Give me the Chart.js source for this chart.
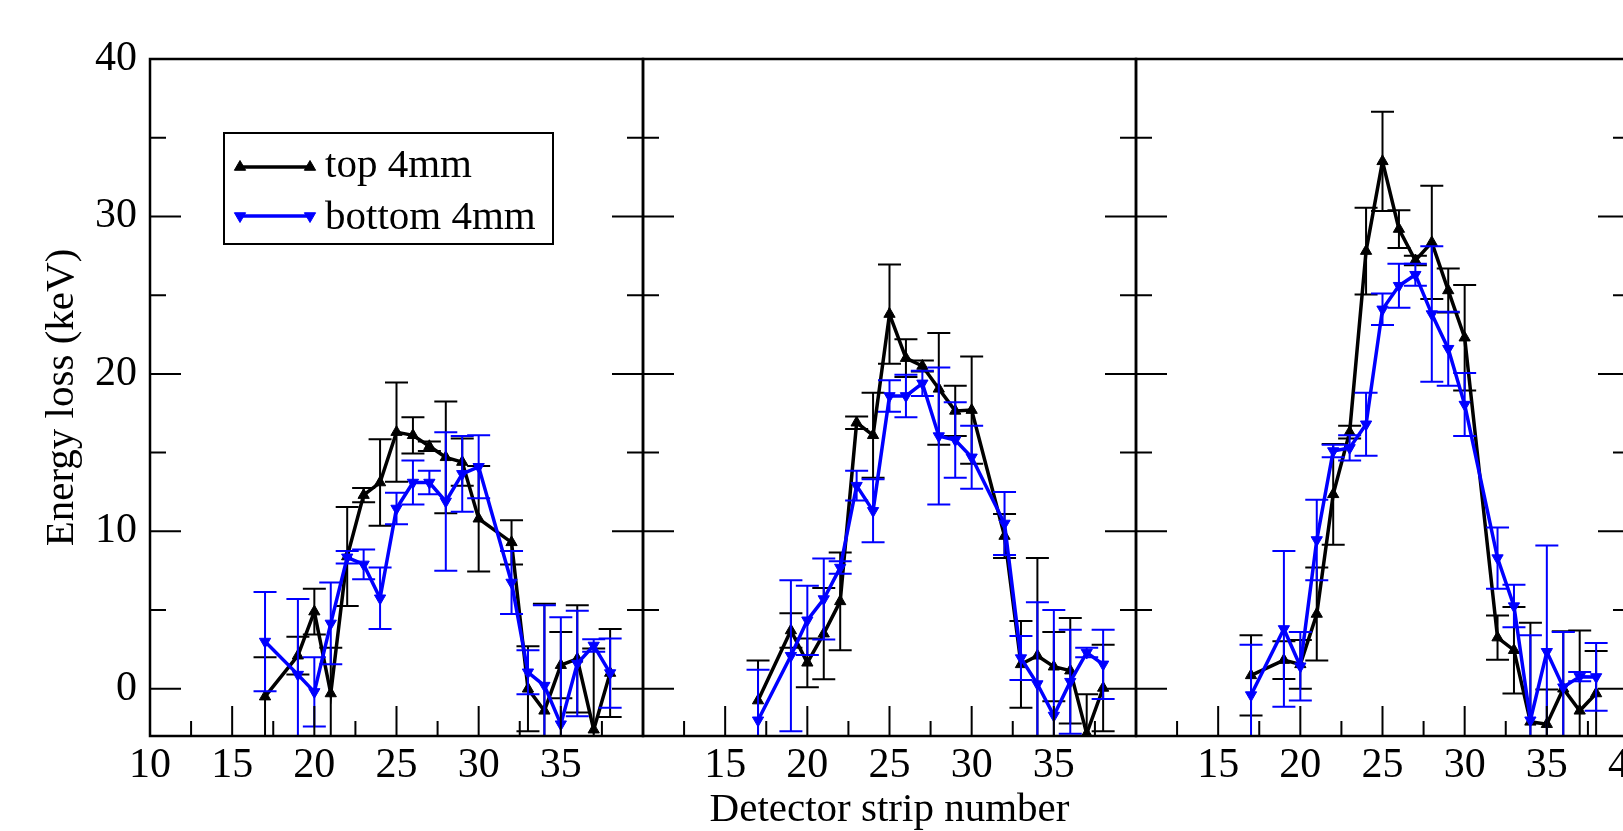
<!DOCTYPE html>
<html>
<head>
<meta charset="utf-8">
<script src="https://cdn.jsdelivr.net/npm/chart.js@4.4.1/dist/chart.umd.min.js"></script>
<style>
  html, body { margin: 0; padding: 0; background: #fff; overflow: hidden; }
  #wrap { position: relative; width: 1623px; height: 831px; overflow: hidden; }
  #wrap canvas { position: absolute; left: 0; top: 0; }
</style>
</head>
<body>
<div id="wrap">
  <canvas id="p1" width="1700" height="831"></canvas>
  <canvas id="p2" width="1700" height="831"></canvas>
  <canvas id="p3" width="1700" height="831"></canvas>
</div>
<script>
/* ---------- Data ---------- */
const strips = [17, 19, 20, 21, 22, 23, 24, 25, 26, 27, 28, 29, 30, 32, 33, 34, 35, 36, 37, 38];

// panel 1
const top1 = [-0.5, 2.1, 4.9, -0.3, 8.4, 12.3, 13.1, 16.3, 16.1, 15.4, 14.7, 14.4, 10.8, 9.3, 0.0, -1.4, 1.5, 1.9, -2.6, 1.0];
const top1Err = [2.5, 1.2, 1.45, 2.9, 3.15, 0.45, 2.75, 3.15, 1.15, 0.3, 3.55, 1.5, 3.35, 1.4, 2.7, 6.8, 2.1, 3.4, 5.15, 2.8];
const bottom1 = [3.0, 0.9, -0.2, 4.15, 8.35, 7.9, 5.75, 11.45, 13.1, 13.1, 11.9, 13.65, 14.1, 6.75, 1.05, 0.2, -2.25, 1.6, 2.75, 1.0];
const bottom1Err = [3.15, 4.8, 2.2, 2.6, 0.4, 0.95, 1.95, 1.0, 1.4, 0.75, 4.4, 2.4, 2.0, 2.0, 1.4, 5.1, 6.8, 3.35, 0.4, 2.2];

// panel 2
const top2 = [-0.75, 3.7, 1.65, 3.5, 5.55, 16.9, 16.1, 23.8, 21.0, 20.5, 19.05, 17.65, 17.7, 9.7, 1.55, 2.1, 1.4, 1.15, -2.85, 0.05];
const top2Err = [2.55, 1.1, 1.55, 2.9, 3.1, 0.4, 2.7, 3.15, 1.2, 0.35, 3.55, 1.6, 3.4, 1.4, 2.75, 6.2, 2.2, 3.35, 2.5, 2.75];
const bottom2 = [-2.0, 2.1, 4.35, 5.7, 7.7, 12.9, 11.3, 18.6, 18.6, 19.4, 16.05, 15.8, 14.7, 10.5, 1.95, 0.3, -1.7, 0.45, 2.3, 1.55];
const bottom2Err = [3.2, 4.8, 2.2, 2.57, 0.4, 0.95, 2.0, 1.0, 1.35, 0.8, 4.35, 2.4, 2.0, 2.0, 1.4, 5.2, 6.7, 3.3, 0.3, 2.2];

// panel 3
const top3 = [0.85, 1.82, 1.55, 4.75, 12.35, 16.3, 27.8, 33.5, 29.2, 27.2, 28.35, 25.3, 22.3, 3.25, 2.45, -2.1, -2.25, 0.0, -1.4, -0.3];
const top3Err = [2.55, 1.2, 1.55, 2.95, 3.2, 0.4, 2.75, 3.15, 1.2, 0.3, 3.6, 1.4, 3.35, 1.4, 2.75, 6.3, 2.2, 3.65, 5.1, 2.7];
const bottom3 = [-0.4, 3.8, 1.43, 9.45, 15.1, 15.3, 16.8, 24.1, 25.6, 26.3, 23.8, 21.6, 18.05, 8.3, 5.25, -2.0, 2.35, 0.1, 0.77, 0.75];
const bottom3Err = [3.2, 4.95, 2.17, 2.55, 0.4, 0.8, 2.0, 1.0, 1.4, 0.7, 4.3, 2.35, 2.0, 1.95, 1.35, 5.4, 6.75, 3.5, 0.3, 2.15];

const seriesNames = ["top 4mm", "bottom 4mm"];

// axes
const xTickValues = [10, 12.5, 15, 17.5, 20, 22.5, 25, 27.5, 30, 32.5, 35, 37.5, 40];
const yTickValues = [0, 5, 10, 15, 20, 25, 30, 35, 40];
const xLabels1 = [10, 15, 20, 25, 30, 35];
const xLabels2 = [15, 20, 25, 30, 35];
const xLabels3 = [15, 20, 25, 30, 35, 40];
const yLabels = [0, 10, 20, 30, 40];

/* ---------- Look ---------- */
const FONT = "'Liberation Serif', 'Times New Roman', serif";
const BLUE = "#0000ff";
const BLACK = "#000000";
const CAP = 11.5;
const MARK = 6.5;
const CANVAS_W = 1700;
const PLOT_TOP = 59;
const PANEL_EDGES = [150, 643, 1136, 1629];

Chart.defaults.font.family = FONT;
Chart.defaults.font.size = 42;
Chart.defaults.color = "#000";

/* ---------- Plugins ---------- */
const errorBars = {
  id: "errorBars",
  beforeDatasetDraw(chart, args) {
    const ds = chart.data.datasets[args.index];
    if (!ds.errors) return;
    const { ctx, chartArea: a, scales: { x, y } } = chart;
    ctx.save();
    ctx.beginPath();
    ctx.rect(a.left, a.top, a.right - a.left, a.bottom - a.top);
    ctx.clip();
    ctx.strokeStyle = ds.borderColor;
    ctx.lineWidth = 2;
    ds.data.forEach((p, i) => {
      const px = x.getPixelForValue(p.x);
      const hi = y.getPixelForValue(p.y + ds.errors[i]);
      const lo = y.getPixelForValue(p.y - ds.errors[i]);
      ctx.beginPath();
      ctx.moveTo(px, hi); ctx.lineTo(px, lo);
      ctx.moveTo(px - CAP, hi); ctx.lineTo(px + CAP, hi);
      ctx.moveTo(px - CAP, lo); ctx.lineTo(px + CAP, lo);
      ctx.stroke();
    });
    ctx.restore();
  }
};

// xmgrace style frame with inward ticks on every side of the panel
const frame = {
  id: "frame",
  afterDraw(chart) {
    const { ctx, chartArea: a, scales: { x, y } } = chart;
    ctx.save();
    ctx.strokeStyle = BLACK;
    ctx.lineWidth = 2;
    ctx.beginPath();
    xTickValues.forEach((v) => {
      const px = x.getPixelForValue(v);
      const len = v % 5 === 0 ? 30 : 15;
      ctx.moveTo(px, a.bottom); ctx.lineTo(px, a.bottom - len);
    });
    yTickValues.forEach((v) => {
      const py = y.getPixelForValue(v);
      const len = v % 10 === 0 ? 31 : 16;
      ctx.moveTo(a.left, py); ctx.lineTo(a.left + len, py);
      ctx.moveTo(a.right, py); ctx.lineTo(a.right - len, py);
    });
    ctx.stroke();
    ctx.lineWidth = 2.5;
    ctx.strokeRect(a.left, a.top, a.right - a.left, a.bottom - a.top);
    ctx.restore();
  }
};

const legendBox = {
  id: "legendBox",
  afterDraw(chart) {
    const ctx = chart.ctx;
    const rows = [
      { label: seriesNames[0], color: BLACK, rotation: 0, y: 167, base: 177 },
      { label: seriesNames[1], color: BLUE, rotation: 180, y: 216, base: 229 }
    ];
    ctx.save();
    ctx.strokeStyle = BLACK;
    ctx.lineWidth = 2;
    ctx.strokeRect(224, 133, 329, 111);
    rows.forEach((r) => {
      ctx.strokeStyle = r.color;
      ctx.fillStyle = r.color;
      ctx.lineWidth = 3.5;
      ctx.beginPath();
      ctx.moveTo(240, r.y); ctx.lineTo(310, r.y);
      ctx.stroke();
      ctx.lineWidth = 1;
      [240, 310].forEach((px) =>
        Chart.helpers.drawPoint(ctx, { pointStyle: "triangle", radius: MARK, rotation: r.rotation, borderWidth: 1 }, px, r.y)
      );
      ctx.fillStyle = BLACK;
      ctx.font = "41px " + FONT;
      ctx.textBaseline = "alphabetic";
      ctx.textAlign = "left";
      ctx.fillText(r.label, 325, r.base);
    });
    ctx.restore();
  }
};

/* ---------- Build panels ---------- */
function series(label, values, errors, color, rotation, order) {
  return {
    label,
    data: strips.map((s, i) => ({ x: s, y: values[i] })),
    errors,
    borderColor: color,
    backgroundColor: color,
    borderWidth: 3.5,
    pointStyle: "triangle",
    pointRadius: MARK,
    pointRotation: rotation,
    pointBackgroundColor: color,
    pointBorderColor: color,
    pointBorderWidth: 1,
    tension: 0,
    order
  };
}

function makePanel(id, index, topVals, topErr, botVals, botErr, xLabels) {
  const first = index === 0;
  const left = PANEL_EDGES[index];
  const right = PANEL_EDGES[index + 1];
  const yAxisWidth = first ? 150 : 0;
  return new Chart(document.getElementById(id), {
    type: "line",
    data: {
      datasets: [
        series(seriesNames[0], topVals, topErr, BLACK, 0, 1),
        series(seriesNames[1], botVals, botErr, BLUE, 180, 0)
      ]
    },
    options: {
      responsive: false,
      animation: false,
      events: [],
      layout: {
        padding: { left: left - yAxisWidth, right: CANVAS_W - right, top: PLOT_TOP, bottom: 0 }
      },
      plugins: { legend: { display: false }, tooltip: { enabled: false } },
      scales: {
        x: {
          type: "linear",
          min: 10,
          max: 40,
          grid: { display: false, drawTicks: false },
          border: { display: false },
          afterBuildTicks: (s) => { s.ticks = xTickValues.map((v) => ({ value: v })); },
          afterFit: (s) => { s.height = 95; },
          ticks: {
            autoSkip: false,
            maxRotation: 0,
            minRotation: 0,
            padding: 5,
            font: { size: 42 },
            callback: (v) => (xLabels.includes(v) ? String(v) : "")
          },
          title: {
            display: index === 1,
            text: "Detector strip number",
            font: { size: 41, lineHeight: 1.0 },
            padding: { top: 0, bottom: 0 }
          }
        },
        y: {
          type: "linear",
          min: -3,
          max: 40,
          display: first,
          grid: { display: false, drawTicks: false },
          border: { display: false },
          afterBuildTicks: (s) => { s.ticks = yTickValues.map((v) => ({ value: v })); },
          afterFit: (s) => { if (first) s.width = yAxisWidth; },
          ticks: {
            padding: 13,
            font: { size: 42 },
            callback: (v) => (yLabels.includes(v) ? String(v) : "")
          },
          title: {
            display: first,
            text: "Energy loss (keV)",
            font: { size: 41 },
            padding: { top: 38, bottom: 0 }
          }
        }
      }
    },
    plugins: first ? [errorBars, frame, legendBox] : [errorBars, frame]
  });
}

makePanel("p1", 0, top1, top1Err, bottom1, bottom1Err, xLabels1);
makePanel("p2", 1, top2, top2Err, bottom2, bottom2Err, xLabels2);
makePanel("p3", 2, top3, top3Err, bottom3, bottom3Err, xLabels3);
</script>
</body>
</html>
